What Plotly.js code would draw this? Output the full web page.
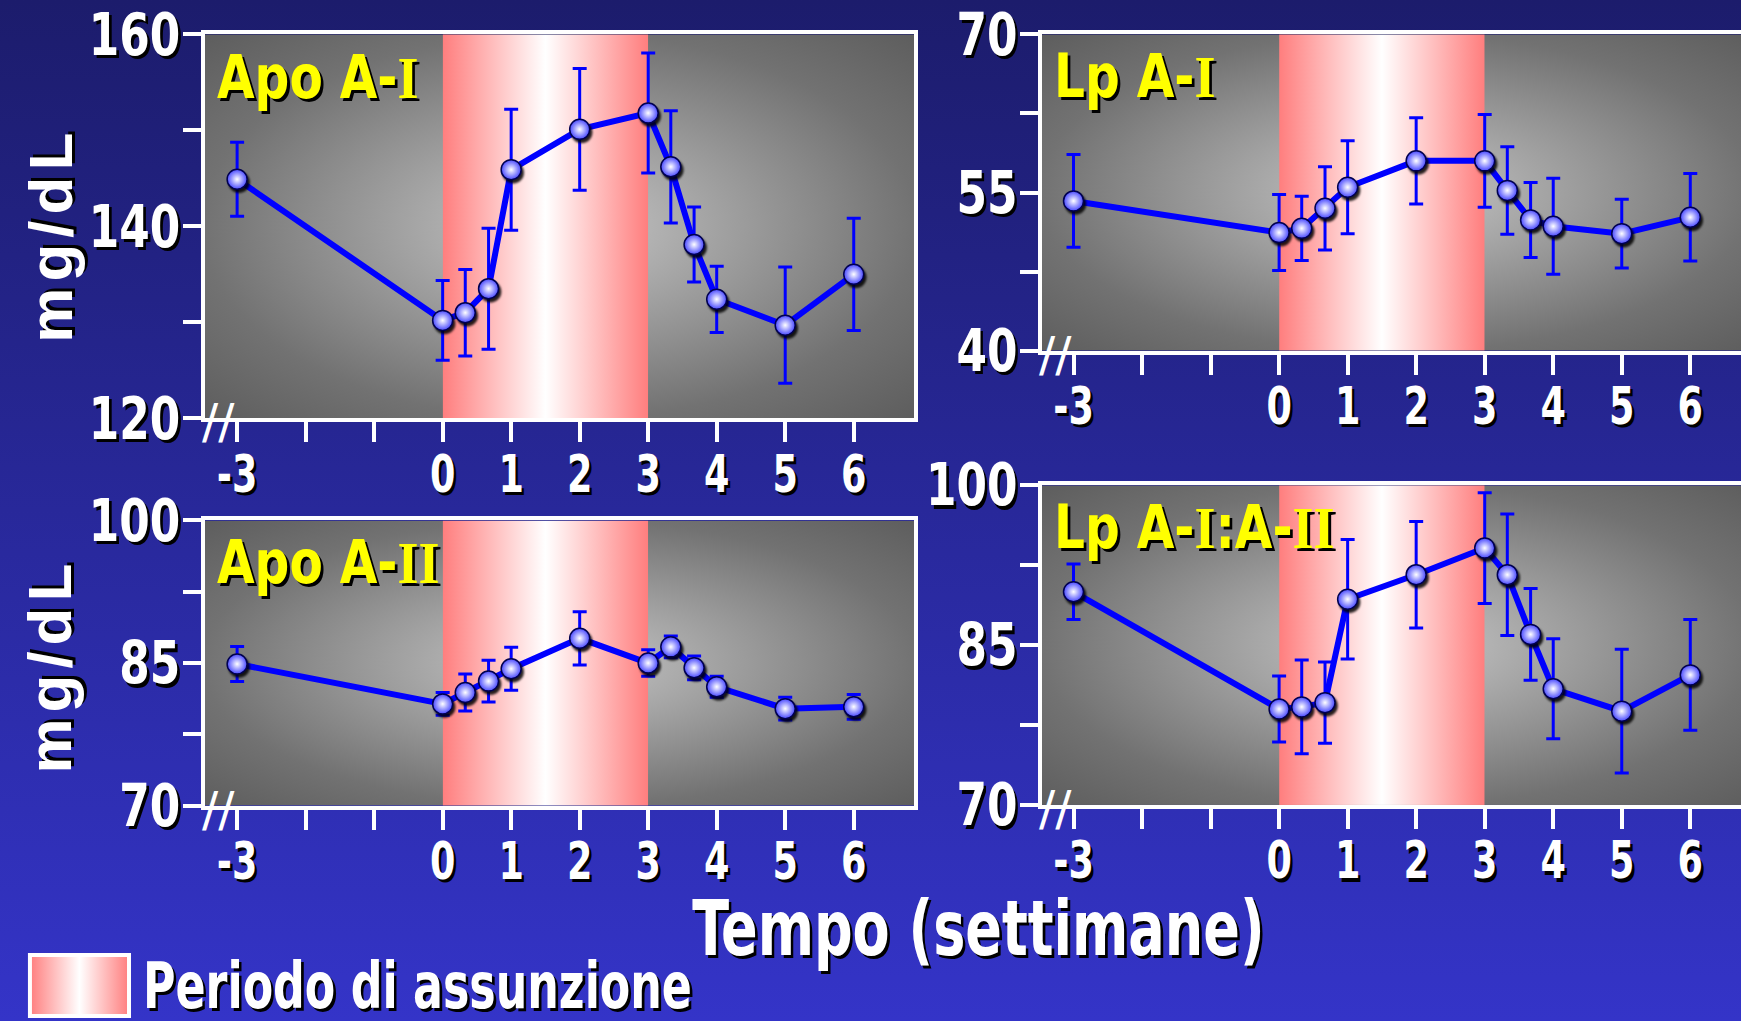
<!DOCTYPE html>
<html><head><meta charset="utf-8">
<script src="https://cdn.plot.ly/plotly-3.0.1.min.js"></script>
<style>
html,body{margin:0;padding:0;overflow:hidden;background:#262690;}
#chart{width:1741px;height:1021px;}
g.annotation text[data-unformatted="mg/dL"]{letter-spacing:6px;}
g.points path.point{filter:drop-shadow(2px 3px 1px rgba(0,0,0,0.85));}
</style></head><body><div id="chart"></div>
<script>
// ---- data ----
const weeks = [-3, 0, 0.33, 0.67, 1, 2, 3, 3.33, 3.67, 4, 5, 6];
const apoA1 = [144.9, 130.2, 131.0, 133.5, 145.9, 150.1, 151.8, 146.2, 138.1, 132.4, 129.7, 135.0];
const apoA1Err = [3.85, 4.15, 4.5, 6.3, 6.3, 6.35, 6.25, 5.85, 3.9, 3.45, 6.05, 5.85];
const lpA1 = [54.2, 51.2, 51.6, 53.5, 55.5, 58.0, 58.0, 55.2, 52.4, 51.8, 51.1, 52.65];
const lpA1Err = [4.4, 3.6, 3.05, 3.95, 4.4, 4.1, 4.4, 4.15, 3.55, 4.55, 3.25, 4.15];
const apoA2 = [84.9, 80.7, 81.9, 83.1, 84.4, 87.6, 85.0, 86.7, 84.5, 82.5, 80.2, 80.4];
const apoA2Err = [1.85, 1.2, 1.95, 2.2, 2.25, 2.8, 1.4, 1.15, 1.25, 1.1, 1.2, 1.3];
const lpA1A2 = [90.0, 79.0, 79.2, 79.6, 89.3, 91.6, 94.1, 91.6, 86.0, 80.9, 78.8, 82.2];
const lpA1A2Err = [2.6, 3.1, 4.4, 3.8, 5.6, 5.0, 5.2, 5.7, 4.3, 4.7, 5.8, 5.2];

const xTickVals = [-3, -2, -1, 0, 1, 2, 3, 4, 5, 6];
const xTickText = ['-3', '', '', '0', '1', '2', '3', '4', '5', '6'];
const yTicks1 = [120, 130, 140, 150, 160];
const yText1 = ['120', '', '140', '', '160'];
const yTicks2 = [40, 47.5, 55, 62.5, 70];
const yText2 = ['40', '', '55', '', '70'];
const yTicks3 = [70, 77.5, 85, 92.5, 100];
const yText3 = ['70', '', '85', '', '100'];
const yTicks4 = [70, 77.5, 85, 92.5, 100];
const yText4 = ['70', '', '85', '', '100'];
const intakeStart = 0, intakeEnd = 3;

const panelTitles = [
  'Apo A-<span style="font-family:Liberation Serif">I</span>',
  'Lp A-<span style="font-family:Liberation Serif">I</span>',
  'Apo A-<span style="font-family:Liberation Serif">II</span>',
  'Lp A-<span style="font-family:Liberation Serif">I</span>:A-<span style="font-family:Liberation Serif">II</span>'
];
const yLabel = 'mg/dL';
const xLabel = 'Tempo (settimane)';
const legendLabel = 'Periodo di assunzione';

// ---- styling helpers ----
const NARROW = 'DejaVu Sans Condensed, sans-serif';
const SHADOW = '3px 3px 0px #000000';
function svgURI(s){ return 'data:image/svg+xml;charset=utf-8,' + encodeURIComponent(s); }
const bgSVG = svgURI("<svg xmlns='http://www.w3.org/2000/svg' width='100' height='100' viewBox='0 0 100 100' preserveAspectRatio='none'><defs><linearGradient id='g' x1='0' y1='0' x2='0' y2='1'><stop offset='0' stop-color='#1c1c6c'/><stop offset='1' stop-color='#3434c8'/></linearGradient></defs><rect width='100' height='100' fill='url(#g)'/></svg>");
const graySVG = svgURI("<svg xmlns='http://www.w3.org/2000/svg' width='100' height='100' viewBox='0 0 100 100' preserveAspectRatio='none'><defs><radialGradient id='g' cx='0.5' cy='0.5' r='0.72'><stop offset='0' stop-color='#c8c8c8'/><stop offset='0.7' stop-color='#727272'/><stop offset='1' stop-color='#5c5c5c'/></radialGradient></defs><rect width='100' height='100' fill='url(#g)'/></svg>");
const pinkSVG = svgURI("<svg xmlns='http://www.w3.org/2000/svg' width='100' height='100' viewBox='0 0 100 100' preserveAspectRatio='none'><defs><linearGradient id='g' x1='0' y1='0' x2='1' y2='0'><stop offset='0' stop-color='#ff7e7e'/><stop offset='0.5' stop-color='#ffffff'/><stop offset='1' stop-color='#ff7e7e'/></linearGradient></defs><rect width='100' height='100' fill='url(#g)'/></svg>");

const panels = [
  {y: apoA1, e: apoA1Err, yr: [120, 160], tv: yTicks1, tt: yText1, xd: [0.1177, 0.525], yd: [0.5903, 0.9664], xr: [-3.47, 6.88], left: true},
  {y: lpA1, e: lpA1Err, yr: [40, 70], tv: yTicks2, tt: yText2, xd: [0.5985, 1], yd: [0.6565, 0.9664], xr: [-3.46, 6.74], left: false},
  {y: apoA2, e: apoA2Err, yr: [70, 100], tv: yTicks3, tt: yText3, xd: [0.1177, 0.525], yd: [0.2109, 0.4903], xr: [-3.47, 6.88], left: true},
  {y: lpA1A2, e: lpA1A2Err, yr: [70, 100], tv: yTicks4, tt: yText4, xd: [0.5985, 1], yd: [0.2116, 0.5248], xr: [-3.46, 6.74], left: false}
];

const data = [];
const layout = {
  width: 1741, height: 1021,
  margin: {l: 0, r: 0, t: 0, b: 0},
  paper_bgcolor: '#262690', plot_bgcolor: 'rgba(0,0,0,0)',
  showlegend: false,
  images: [{source: bgSVG, xref: 'paper', yref: 'paper', x: 0, y: 1, sizex: 1, sizey: 1, sizing: 'stretch', xanchor: 'left', yanchor: 'top', layer: 'below'}],
  shapes: [], annotations: []
};

panels.forEach((p, i) => {
  const n = i === 0 ? '' : String(i + 1);
  const xa = 'x' + n, ya = 'y' + n;
  data.push({
    type: 'scatter', mode: 'lines+markers', x: weeks, y: p.y, xaxis: xa, yaxis: ya,
    line: {color: '#0000ff', width: 6},
    marker: {size: 20, color: '#4848ff', gradient: {type: 'radial', color: '#ffffff'}, line: {color: '#000050', width: 1.5}},
    error_y: {type: 'data', array: p.e, visible: true, color: '#0000ff', thickness: 3, width: 7},
    cliponaxis: false, hoverinfo: 'skip'
  });
  layout['xaxis' + n] = {
    domain: p.xd, range: p.xr, anchor: ya, fixedrange: true,
    showgrid: false, zeroline: false, showline: true, linecolor: '#ffffff', linewidth: 4, mirror: true,
    ticks: 'outside', ticklen: 20, tickwidth: 4, tickcolor: '#ffffff',
    tickmode: 'array', tickvals: xTickVals, ticktext: xTickText, ticklabelstandoff: -13,
    tickfont: {family: NARROW, size: 52, color: '#ffffff', weight: 700, shadow: SHADOW}
  };
  layout['yaxis' + n] = {
    domain: p.yd, range: p.yr, anchor: xa, fixedrange: true,
    showgrid: false, zeroline: false, showline: true, linecolor: '#ffffff', linewidth: 4, mirror: p.left,
    ticks: 'outside', ticklen: 18, tickwidth: 4, tickcolor: '#ffffff',
    tickmode: 'array', tickvals: p.tv, ticktext: p.tt, ticklabelstandoff: -9,
    tickfont: {family: NARROW, size: 58, color: '#ffffff', weight: 700, shadow: SHADOW}
  };
  layout.images.push({source: graySVG, xref: xa, yref: ya, x: -3.47, y: p.yr[1], sizex: 10.35, sizey: p.yr[1] - p.yr[0], sizing: 'stretch', xanchor: 'left', yanchor: 'top', layer: 'below'});
  layout.images.push({source: pinkSVG, xref: xa, yref: ya, x: intakeStart, y: p.yr[1], sizex: intakeEnd - intakeStart, sizey: p.yr[1] - p.yr[0], sizing: 'stretch', xanchor: 'left', yanchor: 'top', layer: 'below'});
  layout.annotations.push({
    xref: xa + ' domain', yref: ya + ' domain', x: 0.014, y: 0.985, xanchor: 'left', yanchor: 'top',
    text: panelTitles[i], showarrow: false,
    font: {family: NARROW, size: 60, color: '#ffff00', weight: 700, shadow: SHADOW}
  });
  layout.annotations.push({
    xref: xa + ' domain', yref: ya + ' domain', x: 0.019, y: 0, xanchor: 'center', yanchor: 'middle', yshift: -3,
    text: '//', showarrow: false,
    font: {family: 'DejaVu Sans, sans-serif', size: 48, color: '#ffffff'}
  });
});

// y axis labels
[0.7698, 0.3477].forEach(yy => layout.annotations.push({
  xref: 'paper', yref: 'paper', x: 0.0285, y: yy, xanchor: 'center', yanchor: 'middle',
  text: yLabel, textangle: -90, showarrow: false,
  font: {family: 'Liberation Sans, Arial, sans-serif', size: 62, color: '#ffffff', weight: 700, shadow: SHADOW}
}));
// x label
layout.annotations.push({
  xref: 'paper', yref: 'paper', x: 0.5618, y: 0.091, xanchor: 'center', yanchor: 'middle', borderpad: 0,
  text: xLabel, showarrow: false,
  font: {family: NARROW, size: 76, color: '#ffffff', weight: 700, shadow: SHADOW}
});
// legend
layout.images.push({source: pinkSVG, xref: 'paper', yref: 'paper', x: 0.0172, y: 0.0646, sizex: 0.0569, sizey: 0.0597, sizing: 'stretch', xanchor: 'left', yanchor: 'top', layer: 'above'});
layout.shapes.push({type: 'rect', xref: 'paper', yref: 'paper', x0: 0.0172, x1: 0.0741, y0: 0.0049, y1: 0.0646, line: {color: '#ffffff', width: 4}, layer: 'above'});
layout.annotations.push({
  xref: 'paper', yref: 'paper', x: 0.0815, y: 0.0345, xanchor: 'left', yanchor: 'middle', borderpad: 0,
  text: legendLabel, showarrow: false,
  font: {family: NARROW, size: 64, color: '#ffffff', weight: 700, shadow: SHADOW}
});

// horizontal condensing of the narrow bold texts (the reference uses a narrow face)
const annScale = {};
annScale[xLabel] = [0.79, 'middle'];
annScale[legendLabel] = [0.77, 'start'];
panelTitles.forEach(t => { annScale[t] = [0.9, 'start']; });

function squeeze(gd) {
  gd.querySelectorAll('text').forEach(t => {
    let s = null, pivot = 'middle';
    const parent = t.parentNode;
    const pcls = (parent && parent.getAttribute && parent.getAttribute('class')) || '';
    const tcls = t.getAttribute('class') || '';
    if (/(^|\s)x\d*tick(\s|$)/.test(pcls) || /(^|\s)x\d*tick(\s|$)/.test(tcls)) { s = 0.78; pivot = 'middle'; }
    else if (/(^|\s)y\d*tick(\s|$)/.test(pcls) || /(^|\s)y\d*tick(\s|$)/.test(tcls)) { s = 0.84; pivot = 'end'; }
    else if (/annotation-text/.test(tcls)) {
      const key = t.getAttribute('data-unformatted');
      if (annScale[key]) { s = annScale[key][0]; pivot = annScale[key][1]; }
    }
    if (s === null) return;
    const b = t.getBBox();
    if (!b.width) return;
    const px = pivot === 'start' ? b.x : (pivot === 'end' ? b.x + b.width : b.x + b.width / 2);
    const old = t.getAttribute('transform') || '';
    t.setAttribute('transform', old + ' translate(' + px + ',0) scale(' + s + ',1) translate(' + (-px) + ',0)');
  });
}

Plotly.newPlot('chart', data, layout, {staticPlot: true, displayModeBar: false}).then(squeeze);
</script></body></html>
